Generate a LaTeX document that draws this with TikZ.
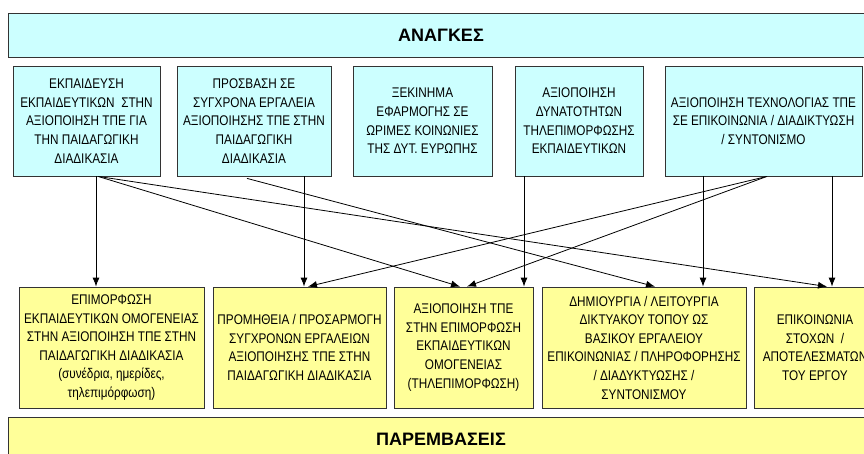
\documentclass[tikz,border=0pt]{standalone}
\usepackage{fontspec}
\setmainfont{Liberation Sans}
\newfontfamily\narrowfont[FakeStretch=0.84]{Liberation Sans}
\usetikzlibrary{arrows.meta, positioning}
\definecolor{needcyan}{HTML}{CCFFFF}
\definecolor{actyellow}{HTML}{FFFF99}

\begin{document}
\begin{tikzpicture}[x=1pt, y=-1pt,
	box/.style={draw=black!80, line width=0.8pt, inner sep=0pt, align=center, text centered, font=\narrowfont\fontsize{14}{18.6}\selectfont},
	need/.style={box, fill=needcyan, minimum height=110pt},
	act/.style={box, fill=actyellow, minimum height=121pt},
	banner/.style={draw=black!80, line width=0.8pt, minimum height=44pt, minimum width=866pt, font=\bfseries\fontsize{18}{20}\selectfont},
	arr/.style={-{Latex[length=9pt, width=7pt]}, line width=0.8pt}]
	\useasboundingbox (0,0) rectangle (864,454);

	     % needs %
		 \node[banner, fill=needcyan] (needs) at (441,35) {ΑΝΑΓΚΕΣ};
		 \node[need, minimum width=147pt] (ekp) at (86.5,121) {ΕΚΠΑΙΔΕΥΣΗ\\ΕΚΠΑΙΔΕΥΤΙΚΩΝ\ \ ΣΤΗΝ\\ΑΞΙΟΠΟΙΗΣΗ ΤΠΕ ΓΙΑ\\ΤΗΝ ΠΑΙΔΑΓΩΓΙΚΗ\\ΔΙΑΔΙΚΑΣΙΑ};
		 \node[need, minimum width=154pt, right of = ekp, node distance=167.5pt] (pro) {ΠΡΟΣΒΑΣΗ ΣΕ\\ΣΥΓΧΡΟΝΑ ΕΡΓΑΛΕΙΑ\\ΑΞΙΟΠΟΙΗΣΗΣ ΤΠΕ ΣΤΗΝ\\ΠΑΙΔΑΓΩΓΙΚΗ\\ΔΙΑΔΙΚΑΣΙΑ};
		 \node[need, minimum width=139pt, right of = pro, node distance=168.5pt] (xek) {ΞΕΚΙΝΗΜΑ\\ΕΦΑΡΜΟΓΗΣ ΣΕ\\ΩΡΙΜΕΣ ΚΟΙΝΩΝΙΕΣ\\ΤΗΣ ΔΥΤ. ΕΥΡΩΠΗΣ};
		 \node[need, minimum width=128pt, right of = xek, node distance=156.5pt] (tel) {ΑΞΙΟΠΟΙΗΣΗ\\ΔΥΝΑΤΟΤΗΤΩΝ\\ΤΗΛΕΠΙΜΟΡΦΩΣΗΣ\\ΕΚΠΑΙΔΕΥΤΙΚΩΝ};
		 \node[need, minimum width=197pt, right of = tel, node distance=184.5pt] (tech) {ΑΞΙΟΠΟΙΗΣΗ ΤΕΧΝΟΛΟΓΙΑΣ ΤΠΕ\\ΣΕ ΕΠΙΚΟΙΝΩΝΙΑ / ΔΙΑΔΙΚΤΥΩΣΗ\\/ ΣΥΝΤΟΝΙΣΜΟ};

	     % actions %
		 \node[act, minimum width=185pt] (epi) at (111.5,347.5) {ΕΠΙΜΟΡΦΩΣΗ\\ΕΚΠΑΙΔΕΥΤΙΚΩΝ ΟΜΟΓΕΝΕΙΑΣ\\ΣΤΗΝ ΑΞΙΟΠΟΙΗΣΗ ΤΠΕ ΣΤΗΝ\\ΠΑΙΔΑΓΩΓΙΚΗ ΔΙΑΔΙΚΑΣΙΑ\\(συνέδρια, ημερίδες,\\τηλεπιμόρφωση)};
		 \node[act, minimum width=173pt, right of = epi, node distance=188pt] (prom) {ΠΡΟΜΗΘΕΙΑ / ΠΡΟΣΑΡΜΟΓΗ\\ΣΥΓΧΡΟΝΩΝ ΕΡΓΑΛΕΙΩΝ\\ΑΞΙΟΠΟΙΗΣΗΣ ΤΠΕ ΣΤΗΝ\\ΠΑΙΔΑΓΩΓΙΚΗ ΔΙΑΔΙΚΑΣΙΑ};
		 \node[act, minimum width=139pt, right of = prom, node distance=164pt] (tele) {ΑΞΙΟΠΟΙΗΣΗ ΤΠΕ\\ΣΤΗΝ ΕΠΙΜΟΡΦΩΣΗ\\ΕΚΠΑΙΔΕΥΤΙΚΩΝ\\ΟΜΟΓΕΝΕΙΑΣ\\(ΤΗΛΕΠΙΜΟΡΦΩΣΗ)};
		 \node[act, minimum width=204pt, right of = tele, node distance=180.5pt] (web) {ΔΗΜΙΟΥΡΓΙΑ / ΛΕΙΤΟΥΡΓΙΑ\\ΔΙΚΤΥΑΚΟΥ ΤΟΠΟΥ ΩΣ\\ΒΑΣΙΚΟΥ ΕΡΓΑΛΕΙΟΥ\\ΕΠΙΚΟΙΝΩΝΙΑΣ / ΠΛΗΡΟΦΟΡΗΣΗΣ\\/ ΔΙΑΔΥΚΤΥΩΣΗΣ /\\ΣΥΝΤΟΝΙΣΜΟΥ};
		 \node[act, minimum width=122pt, right of = web, node distance=171pt] (com) {ΕΠΙΚΟΙΝΩΝΙΑ\\ΣΤΟΧΩΝ\ \ /\\ΑΠΟΤΕΛΕΣΜΑΤΩΝ\\ΤΟΥ ΕΡΓΟΥ};
		 \node[banner, fill=actyellow] (acts) at (441,439) {ΠΑΡΕΜΒΑΣΕΙΣ};

	     % edges %
		 \draw[arr] ([xshift=9.5pt]ekp.south) -- ([xshift=-15.5pt]epi.north);
		 \draw[arr] ([xshift=11.5pt]ekp.south) -- ([xshift=-3.5pt]tele.north);
		 \draw[arr] ([xshift=11.5pt]ekp.south) -- ([xshift=12pt]com.north);
		 \draw[arr] ([xshift=-7pt, yshift=-2pt]pro.south) -- ([xshift=11pt]web.north);
		 \draw[arr] ([xshift=50pt]pro.south) -- ([xshift=4.5pt]prom.north);
		 \draw[arr] ([xshift=-55pt]tel.south) -- ([xshift=60.5pt]tele.north);
		 \draw[arr] ([xshift=-60.5pt]tech.south) -- ([xshift=59pt]web.north);
		 \draw[arr] ([xshift=68.5pt]tech.south) -- ([xshift=17pt]com.north);
		 \draw[arr] ([xshift=3.5pt]tech.south) -- ([xshift=8.5pt]prom.north);
		 \draw[arr] ([xshift=3.5pt]tech.south) -- ([xshift=3.5pt]tele.north);
\end{tikzpicture}
\end{document}
